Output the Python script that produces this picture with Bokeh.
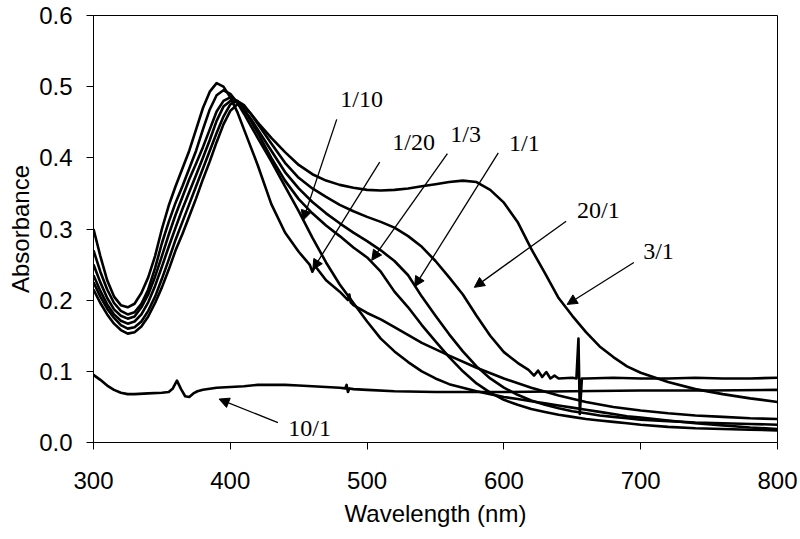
from bokeh.plotting import figure
from bokeh.models import ColumnDataSource, Arrow, NormalHead, PrintfTickFormatter, FixedTicker, Range1d
from bokeh.core.properties import value
from bokeh.embed import file_html
from bokeh.resources import INLINE

# ---------------- data ----------------
X_TICKS = [300, 400, 500, 600, 700, 800]
Y_TICKS = [0.0, 0.1, 0.2, 0.3, 0.4, 0.5, 0.6]

WL = [300, 305, 310, 315, 320, 325, 330, 335, 340, 345, 350, 355, 360, 365, 370, 375,
      380, 385, 390, 395, 400, 405, 410, 415, 420,
      430, 440, 450, 460, 470, 480, 490, 500, 510, 520, 530, 540, 550, 560, 570, 580,
      590, 600, 610, 620, 630, 640, 650, 660, 670, 680, 690, 700,
      720, 740, 760, 780, 800]

ABS_1_10 = [0.27, 0.24, 0.215, 0.196, 0.185, 0.18, 0.183, 0.195, 0.215, 0.245, 0.28, 0.31,
            0.337, 0.36, 0.385, 0.41, 0.44, 0.468, 0.488, 0.495, 0.49, 0.478, 0.462, 0.445, 0.428,
            0.395, 0.36, 0.325, 0.288, 0.253, 0.222, 0.196, 0.17, 0.146, 0.128, 0.113, 0.1, 0.09,
            0.082, 0.077, 0.072, 0.068, 0.064, 0.061, 0.058, 0.055, 0.052, 0.049, 0.046, 0.043,
            0.04, 0.037, 0.035,
            0.031, 0.027, 0.024, 0.021, 0.019]

ABS_1_3 = [0.25, 0.225, 0.203, 0.187, 0.178, 0.174, 0.177, 0.19, 0.208, 0.233, 0.262, 0.292,
           0.32, 0.345, 0.37, 0.392, 0.415, 0.44, 0.465, 0.48, 0.485, 0.48, 0.468, 0.452, 0.435,
           0.4, 0.368, 0.342, 0.322, 0.305, 0.29, 0.274, 0.26, 0.24, 0.212, 0.19, 0.165, 0.142,
           0.12, 0.1, 0.083, 0.07, 0.06, 0.053, 0.047, 0.043, 0.039, 0.036, 0.033, 0.031, 0.029,
           0.027, 0.025,
           0.022, 0.02, 0.019, 0.018, 0.017]

ABS_1_1 = [0.235, 0.213, 0.194, 0.18, 0.171, 0.167, 0.17, 0.18, 0.197, 0.22, 0.247, 0.275,
           0.302, 0.328, 0.352, 0.376, 0.4, 0.425, 0.452, 0.472, 0.48, 0.478, 0.468, 0.455, 0.44,
           0.41, 0.38, 0.357, 0.338, 0.322, 0.308, 0.295, 0.283, 0.27, 0.255, 0.235, 0.205, 0.178,
           0.152, 0.128, 0.107, 0.09, 0.077, 0.067, 0.059, 0.053, 0.048, 0.044, 0.041, 0.038,
           0.036, 0.034, 0.032,
           0.03, 0.028, 0.027, 0.026, 0.025]

ABS_3_1 = [0.215, 0.196, 0.18, 0.167, 0.158, 0.153, 0.155, 0.163, 0.177, 0.196, 0.218, 0.243,
           0.27, 0.293, 0.318, 0.343, 0.37, 0.395, 0.422, 0.447, 0.466, 0.475, 0.472, 0.462, 0.45,
           0.428, 0.408, 0.39, 0.377, 0.368, 0.362, 0.358, 0.355, 0.354, 0.355, 0.357, 0.36, 0.363,
           0.366, 0.368, 0.366, 0.355, 0.337, 0.31, 0.272, 0.238, 0.203, 0.178, 0.155, 0.135,
           0.12, 0.107, 0.098,
           0.085, 0.075, 0.068, 0.062, 0.057]

WL_20_1 = [300, 305, 310, 315, 320, 325, 330, 335, 340, 345, 350, 355, 360, 365, 370, 375,
           380, 385, 390, 395, 400, 405, 410, 415, 420,
           430, 440, 450, 460, 470, 480, 490, 500, 510, 520, 530, 540, 550, 560, 570, 580,
           590, 600, 610,
           618, 622, 625, 628, 631, 634, 637, 640, 650, 653, 654.5, 655.5, 657, 660, 680, 700,
           720, 740, 760, 780, 800]
ABS_20_1 = [0.225, 0.205, 0.188, 0.175, 0.165, 0.16, 0.162, 0.17, 0.185, 0.205, 0.23, 0.257,
            0.285, 0.31, 0.335, 0.36, 0.385, 0.41, 0.435, 0.458, 0.475, 0.48, 0.474, 0.462, 0.448,
            0.42, 0.393, 0.372, 0.357, 0.345, 0.334, 0.325, 0.317, 0.31, 0.302, 0.29, 0.275, 0.255,
            0.232, 0.208, 0.178, 0.15, 0.127, 0.112,
            0.102, 0.094, 0.101, 0.092, 0.099, 0.09, 0.094, 0.09, 0.091, 0.09, 0.146, 0.04, 0.09,
            0.09, 0.091, 0.09, 0.09, 0.091, 0.09, 0.09, 0.091]

WL_1_20 = [300, 305, 310, 315, 320, 325, 330, 335, 340, 345, 350, 355, 360, 365, 370, 375,
           380, 385, 390, 395, 400, 405, 410, 415, 420,
           430, 440, 450, 458, 460, 462, 470, 480, 486, 487, 488, 490, 500, 510, 520, 540, 560,
           580, 600, 620, 640, 660, 680, 700, 720, 740, 760, 780, 800]
ABS_1_20 = [0.30, 0.262, 0.228, 0.205, 0.193, 0.19, 0.195, 0.21, 0.232, 0.262, 0.3, 0.333,
            0.36, 0.385, 0.41, 0.44, 0.47, 0.493, 0.505, 0.5, 0.485, 0.465, 0.44, 0.415, 0.39,
            0.335, 0.295, 0.268, 0.25, 0.24, 0.248, 0.228, 0.212, 0.2, 0.208, 0.197, 0.193, 0.182,
            0.173, 0.162, 0.14, 0.122, 0.105, 0.09, 0.077, 0.066, 0.057, 0.05, 0.045, 0.041,
            0.038, 0.036, 0.034, 0.033]

WL_10_1 = [300, 305, 310, 315, 320, 325, 330, 340, 350, 355, 358, 361, 364, 367, 370, 373,
           376, 380, 390, 400, 410, 420, 430, 440, 450, 460, 470, 480, 484, 485, 486, 487, 490,
           500, 520, 550, 600, 650, 700, 750, 800]
ABS_10_1 = [0.095, 0.088, 0.08, 0.074, 0.07, 0.068, 0.068, 0.069, 0.07, 0.071, 0.076, 0.087,
            0.075, 0.065, 0.064, 0.069, 0.072, 0.074, 0.077, 0.078, 0.079, 0.081, 0.081, 0.081,
            0.08, 0.079, 0.078, 0.077, 0.076, 0.081, 0.071, 0.076, 0.075, 0.074, 0.072, 0.071,
            0.071, 0.072, 0.073, 0.073, 0.074]

LABELS = ["1/10", "1/20", "1/3", "1/1", "20/1", "3/1", "10/1"]
LABEL_X = [496, 534, 572, 615, 669, 713, 458]
LABEL_Y = [0.482, 0.422, 0.433, 0.421, 0.327, 0.269, 0.020]
ARROW_X0 = [477.8, 509.2, 558.7, 595.9, 645.5, 695.0, 434.8]
ARROW_Y0 = [0.454, 0.394, 0.406, 0.407, 0.311, 0.253, 0.028]
ARROW_X1 = [453.1, 460.3, 503.4, 534.7, 578.4, 646.2, 391.8]
ARROW_Y1 = [0.312, 0.243, 0.256, 0.219, 0.218, 0.194, 0.061]

# ---------------- figure ----------------
p = figure(width=798, height=535, output_backend="svg", toolbar_location=None,
           x_range=Range1d(300, 800), y_range=Range1d(0, 0.6),
           min_border_left=93, min_border_right=21, min_border_top=15, min_border_bottom=93,
           x_axis_label="Wavelength (nm)", y_axis_label="Absorbance")

p.background_fill_color = "white"
p.border_fill_color = "white"
p.outline_line_color = "black"
p.outline_line_width = 1
p.outline_line_alpha = 1.0
p.xgrid.visible = False
p.ygrid.visible = False

p.xaxis.ticker = FixedTicker(ticks=X_TICKS)
p.yaxis.ticker = FixedTicker(ticks=Y_TICKS)
p.yaxis.formatter = PrintfTickFormatter(format="%.1f")
for ax in (p.xaxis, p.yaxis):
    ax.axis_line_color = "black"
    ax.major_tick_line_color = "black"
    ax.major_tick_out = 7
    ax.major_tick_in = 0
    ax.minor_tick_out = 0
    ax.minor_tick_in = 0
    ax.major_label_text_font = "Liberation Sans"
    ax.major_label_text_font_size = "24px"
    ax.major_label_text_color = "black"
    ax.axis_label_text_font = "Liberation Sans"
    ax.axis_label_text_font_size = "24px"
    ax.axis_label_text_font_style = "normal"
    ax.axis_label_text_color = "black"
p.xaxis.major_label_standoff = 22
p.xaxis.axis_label_standoff = 8
p.yaxis.major_label_standoff = 14
p.yaxis.axis_label_standoff = 2

series = [(WL, ABS_3_1), (WL_20_1, ABS_20_1), (WL, ABS_1_1), (WL, ABS_1_3),
          (WL, ABS_1_10), (WL_1_20, ABS_1_20), (WL_10_1, ABS_10_1)]
for xs, ys in series:
    assert len(xs) == len(ys), (len(xs), len(ys))
    p.line(xs, ys, line_color="black", line_width=2.6, line_join="round")

asrc = ColumnDataSource(dict(x0=ARROW_X0, y0=ARROW_Y0, x1=ARROW_X1, y1=ARROW_Y1))
p.add_layout(Arrow(x_start="x0", y_start="y0", x_end="x1", y_end="y1", source=asrc,
                   line_color="black", line_width=1.3,
                   end=NormalHead(size=10, fill_color="black", line_color="black", line_width=1)))

lsrc = ColumnDataSource(dict(x=LABEL_X, y=LABEL_Y, t=LABELS))
p.text(x="x", y="y", text="t", source=lsrc, text_font=value("Liberation Serif"),
       text_font_size="24px", text_align="center", text_baseline="middle", text_color="black")

open("out.html", "w").write(file_html(p, INLINE))
